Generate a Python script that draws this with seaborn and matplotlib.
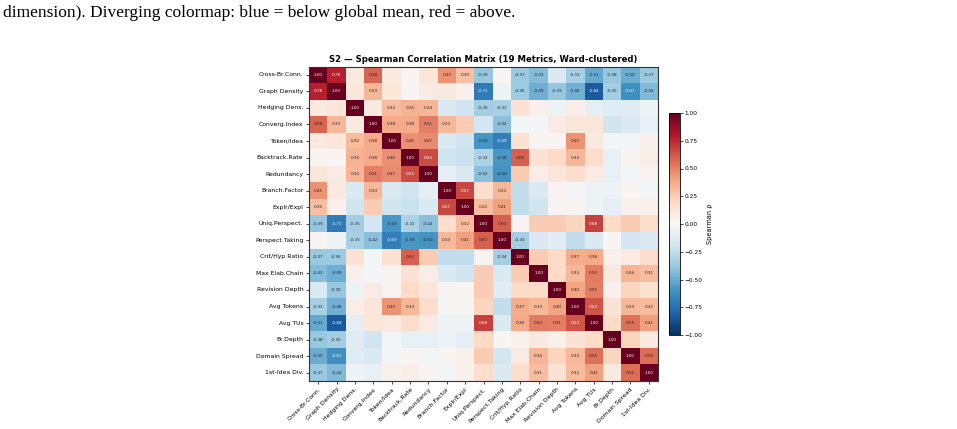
import numpy as np
import pandas as pd
import matplotlib
matplotlib.use("Agg")
import matplotlib.pyplot as plt
import seaborn as sns

METRICS = [
    "Cross-Br.Conn.", "Graph Density", "Hedging Dens.", "Converg.Index", "Token/Idea",
    "Backtrack.Rate", "Redundancy", "Branch.Factor", "Explr/Expl", "Uniq.Perspect.",
    "Perspect.Taking", "Crit/Hyp Ratio", "Max Elab.Chain", "Revision Depth", "Avg Tokens",
    "Avg TUs", "Br.Depth", "Domain Spread", "1st-Idea Div.",
]

# upper triangle, row i holds rho(i, j) for j > i (Ward order)
UPPER = [
    [0.78, 0.10, 0.58, 0.10, 0.02, 0.12, 0.45, 0.30, -0.39, 0.02, -0.37, -0.43, -0.15, -0.33, -0.51, -0.38, -0.50, -0.37],
    [0.12, 0.33, 0.12, 0.02, 0.08, 0.10, 0.05, -0.71, -0.05, -0.36, -0.49, -0.39, -0.48, -0.84, -0.35, -0.61, -0.44],
    [0.10, 0.32, 0.35, 0.34, -0.15, -0.20, -0.35, -0.33, 0.15, 0.05, -0.05, 0.07, -0.10, -0.12, -0.12, -0.05],
    [0.38, 0.38, 0.51, 0.33, 0.25, -0.18, -0.42, -0.03, -0.02, 0.08, 0.12, 0.12, -0.20, -0.15, -0.08],
    [0.46, 0.47, -0.15, -0.20, -0.59, -0.69, 0.15, 0.02, 0.03, 0.45, 0.10, -0.03, -0.03, 0.05],
    [0.65, -0.20, -0.22, -0.32, -0.58, 0.60, 0.15, 0.20, 0.33, 0.18, -0.08, 0.02, 0.07],
    [-0.10, -0.15, -0.42, -0.60, 0.25, 0.07, 0.12, 0.18, 0.08, -0.08, -0.03, 0.03],
    [0.67, 0.18, 0.33, -0.25, -0.15, 0.03, -0.02, -0.05, -0.05, 0.02, -0.03],
    [0.32, 0.41, -0.25, -0.20, 0.02, 0.02, -0.05, -0.10, 0.05, 0.05],
    [0.60, 0.03, 0.25, 0.25, 0.22, 0.68, 0.20, 0.25, 0.18],
    [-0.34, -0.15, -0.12, -0.25, -0.15, 0.02, -0.18, -0.15],
    [0.25, 0.20, 0.37, 0.38, 0.05, 0.08, 0.18],
    [0.20, 0.33, 0.52, 0.10, 0.34, 0.31],
    [0.40, 0.51, 0.05, 0.22, 0.15],
    [0.63, 0.15, 0.33, 0.32],
    [0.20, 0.55, 0.41],
    [0.22, 0.10],
    [0.56],
]

CBAR_TICKS = [-1.0, -0.75, -0.5, -0.25, 0.0, 0.25, 0.5, 0.75, 1.0]
ANNOT_MIN = 0.3

CAPTION = "dimension). Diverging colormap: blue = below global mean, red = above."
TITLE = "S2 \u2014 Spearman Correlation Matrix (19 Metrics, Ward-clustered)"


def build_matrix() -> pd.DataFrame:
    n = len(METRICS)
    m = np.eye(n)
    for i, row in enumerate(UPPER):
        for k, v in enumerate(row):
            j = i + 1 + k
            m[i, j] = v
            m[j, i] = v
    return pd.DataFrame(m, index=METRICS, columns=METRICS)


def main() -> None:
    corr = build_matrix()
    labels = corr.map(lambda v: f"{v:.2f}" if abs(v) >= ANNOT_MIN else "")

    W, H = 957, 429
    fig = plt.figure(figsize=(W / 100, H / 100), dpi=100)
    ax = fig.add_axes([309 / W, 1 - 381 / H, 349 / W, 314.5 / H])
    cax = fig.add_axes([669 / W, 1 - 335 / H, 11 / W, 222 / H])

    sns.heatmap(
        corr, cmap="RdBu_r", vmin=-1, vmax=1,
        annot=labels.to_numpy(), fmt="", annot_kws={"size": 3},
        ax=ax, cbar_ax=cax, cbar_kws={"ticks": CBAR_TICKS},
    )

    # dark cells get white numbers
    for txt in ax.texts:
        s = txt.get_text()
        if s:
            txt.set_color("white" if abs(float(s)) > 0.6 else "#222222")

    for sp in ax.spines.values():
        sp.set_visible(True)
        sp.set_linewidth(0.8)
        sp.set_color("#333333")

    ax.tick_params(length=2.5, width=0.5, labelsize=4.4, pad=1.5)
    ax.set_xticklabels(METRICS, rotation=45, ha="right", rotation_mode="anchor")
    ax.set_yticklabels(METRICS, rotation=0)
    ax.set_title(TITLE, fontsize=6.1, fontweight="bold", pad=3.5)

    cbar = ax.collections[0].colorbar
    cbar.outline.set_linewidth(0.6)
    cax.tick_params(labelsize=4.2, length=2, width=0.5, pad=1.5)
    cax.set_ylabel("Spearman \u03c1", fontsize=4.8, labelpad=3)

    fig.text(3 / W, 1 - 13 / H, CAPTION, family="Liberation Serif", fontsize=12.5, va="center")

    fig.savefig("out.png", dpi=100)
    plt.close(fig)


if __name__ == "__main__":
    main()
